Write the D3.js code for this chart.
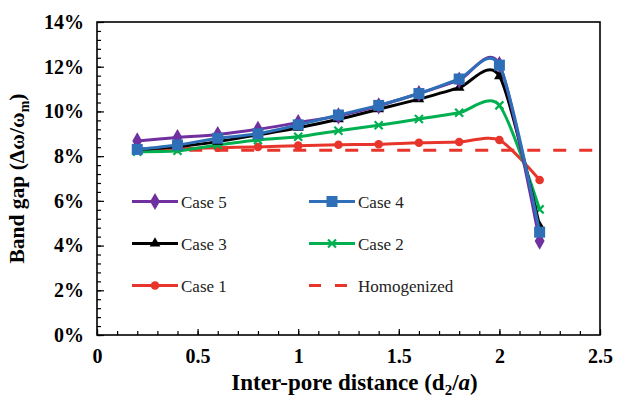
<!DOCTYPE html>
<html>
<head>
<meta charset="utf-8">
<script src="https://cdn.jsdelivr.net/npm/d3@7"></script>
<style>
  body { margin: 0; background: #fff; }
  svg text { font-family: "Liberation Serif", "DejaVu Serif", serif !important; }
</style>
</head>
<body>
<div id="chart"></div>
<script>
(function () {
  // data (band gap in %)
  let distances = [0.2, 0.4, 0.6, 0.8, 1.0, 1.2, 1.4, 1.6, 1.8, 2.0, 2.2];
  let case5 = [8.68, 8.83, 8.97, 9.2, 9.5, 9.8, 10.25, 10.8, 11.4, 12.1, 4.2];
  let case4 = [8.3, 8.5, 8.8, 9.0, 9.4, 9.84, 10.27, 10.8, 11.45, 12.07, 4.6];
  let case3 = [8.3, 8.42, 8.65, 8.95, 9.27, 9.65, 10.1, 10.55, 11.06, 11.58, 4.87];
  let case2 = [8.2, 8.24, 8.5, 8.72, 8.87, 9.14, 9.38, 9.66, 9.94, 10.27, 5.62];
  let case1 = [8.3, 8.32, 8.38, 8.41, 8.47, 8.51, 8.53, 8.6, 8.63, 8.72, 6.93];
  let homogenized = 8.26;
  let homogenizedRange = [0.2, 2.5];
  let yTicks = [0, 2, 4, 6, 8, 10, 12, 14];
  let xTicks = [0, 0.5, 1, 1.5, 2, 2.5];

  let seriesList = [
    { name: 'Case 5', values: case5, color: '#7030a0', marker: 'diamond' },
    { name: 'Case 4', values: case4, color: '#2e6fb7', marker: 'square' },
    { name: 'Case 3', values: case3, color: '#000000', marker: 'triangle' },
    { name: 'Case 2', values: case2, color: '#00b050', marker: 'cross' },
    { name: 'Case 1', values: case1, color: '#e8352b', marker: 'circle' }
  ];

  let serif = '"Liberation Serif", "DejaVu Serif", serif';
  let margin = { top: 22, right: 27, bottom: 65, left: 97 };
  let fullW = 627, fullH = 400;
  let width = fullW - margin.left - margin.right;
  let height = fullH - margin.top - margin.bottom;

  let svg = d3.select('#chart')
    .append('svg')
    .attr('width', fullW)
    .attr('height', fullH)
    .attr('font-family', serif)
    .append('g')
    .attr('transform', 'translate(' + margin.left + ', ' + margin.top + ')');

  let xScale = d3.scaleLinear().domain([0, 2.5]).range([0, width]);
  let yScale = d3.scaleLinear().domain([0, 14]).range([height, 0]);

  // minor ticks (inside)
  let yMinor = d3.axisRight(yScale)
    .tickValues(d3.range(0, 14.01, 0.4))
    .tickSize(4).tickFormat('');
  svg.append('g').attr('class', 'minor').call(yMinor);

  let xMinor = d3.axisTop(xScale)
    .tickValues(d3.range(0, 2.501, 0.1))
    .tickSize(4).tickFormat('');
  svg.append('g').attr('class', 'minor')
    .attr('transform', `translate(0, ${height})`)
    .call(xMinor);

  // major ticks + labels
  let yAxis = d3.axisLeft(yScale)
    .tickValues(yTicks)
    .tickSizeInner(-7).tickSizeOuter(0)
    .tickPadding(13)
    .tickFormat(d => d + '%');
  svg.append('g').attr('class', 'major').call(yAxis);

  let xAxis = d3.axisBottom(xScale)
    .tickValues(xTicks)
    .tickSizeInner(-6).tickSizeOuter(0)
    .tickPadding(14)
    .tickFormat(d => d);
  svg.append('g').attr('class', 'major')
    .attr('transform', `translate(0, ${height})`)
    .call(xAxis);

  svg.selectAll('.domain').remove();
  svg.selectAll('g.minor, g.major').attr('font-family', serif);
  svg.selectAll('.tick line').attr('stroke', '#000').attr('stroke-width', 1.2);
  svg.selectAll('.major text')
    .attr('font-size', 20)
    .attr('font-weight', 'bold')
    .attr('fill', '#000');

  // frame
  svg.append('rect')
    .attr('x', 0).attr('y', 0)
    .attr('width', width).attr('height', height)
    .attr('fill', 'none')
    .attr('stroke', '#000')
    .attr('stroke-width', 1.6);

  // homogenized dashed line
  svg.append('line')
    .attr('x1', xScale(homogenizedRange[0]))
    .attr('x2', xScale(homogenizedRange[1]) - 3)
    .attr('y1', yScale(homogenized))
    .attr('y2', yScale(homogenized))
    .attr('stroke', '#e8352b')
    .attr('stroke-width', 3)
    .attr('stroke-dasharray', '13,13');

  let line = d3.line()
    .x(d => xScale(d[0]))
    .y(d => yScale(d[1]))
    .curve(d3.curveCardinal.tension(0.2));

  function drawMarker(g, type, color, x, y) {
    if (type === 'diamond') {
      g.append('path').attr('d', d3.symbol(d3.symbolDiamond, 85)())
        .attr('transform', `translate(${x},${y})`).attr('fill', color);
    } else if (type === 'square') {
      g.append('rect').attr('x', x - 5.5).attr('y', y - 5.5)
        .attr('width', 11).attr('height', 11).attr('fill', color);
    } else if (type === 'triangle') {
      g.append('path').attr('d', d3.symbol(d3.symbolTriangle, 50)())
        .attr('transform', `translate(${x},${y})`).attr('fill', color);
    } else if (type === 'cross') {
      g.append('path').attr('d', `M${x - 4},${y - 4}L${x + 4},${y + 4}M${x - 4},${y + 4}L${x + 4},${y - 4}`)
        .attr('stroke', color).attr('stroke-width', 2.2).attr('fill', 'none');
    } else {
      g.append('circle').attr('cx', x).attr('cy', y).attr('r', 4.3).attr('fill', color);
    }
  }

  // draw from Case 1 up so Case 5 / Case 4 sit on top as in the picture
  let drawOrder = [4, 3, 2, 0, 1];
  drawOrder.forEach(i => {
    let s = seriesList[i];
    let pts = distances.map((d, j) => [d, s.values[j]]);
    let g = svg.append('g');
    g.append('path')
      .attr('d', line(pts))
      .attr('fill', 'none')
      .attr('stroke', s.color)
      .attr('stroke-width', 3);
    pts.forEach(p => drawMarker(g, s.marker, s.color, xScale(p[0]), yScale(p[1])));
  });

  // legend
  let legendItems = [
    { s: seriesList[0], col: 0, row: 0 },
    { s: seriesList[1], col: 1, row: 0 },
    { s: seriesList[2], col: 0, row: 1 },
    { s: seriesList[3], col: 1, row: 1 },
    { s: seriesList[4], col: 0, row: 2 },
    { s: { name: 'Homogenized', color: '#e8352b', marker: null }, col: 1, row: 2 }
  ];
  let legend = svg.append('g');
  legendItems.forEach(it => {
    let x0 = 35 + it.col * 177;
    let y0 = 179.5 + it.row * 42;
    let g = legend.append('g');
    let ln = g.append('line')
      .attr('x1', x0).attr('x2', x0 + 46)
      .attr('y1', y0).attr('y2', y0)
      .attr('stroke', it.s.color)
      .attr('stroke-width', 3);
    if (it.s.marker) {
      drawMarker(g, it.s.marker, it.s.color, x0 + 23, y0);
    } else {
      ln.attr('stroke-dasharray', '12,14');
    }
    g.append('text')
      .attr('x', x0 + 49).attr('y', y0 + 6)
      .attr('font-size', 17)
      .attr('fill', '#222')
      .text(it.s.name);
  });

  // axis titles
  let xTitle = svg.append('text')
    .attr('x', width / 2 + 6)
    .attr('y', height + 55)
    .attr('text-anchor', 'middle')
    .attr('font-size', 23)
    .attr('font-weight', 'bold');
  xTitle.append('tspan').text('Inter-pore distance (d');
  xTitle.append('tspan').attr('font-size', 15).attr('dy', 5).text('2');
  xTitle.append('tspan').attr('dy', -5).text('/');
  xTitle.append('tspan').attr('font-style', 'italic').text('a');
  xTitle.append('tspan').text(')');

  let yTitle = svg.append('text')
    .attr('transform', `translate(${-73}, ${height / 2}) rotate(-90)`)
    .attr('text-anchor', 'middle')
    .attr('font-size', 21.5)
    .attr('font-weight', 'bold');
  yTitle.append('tspan').text('Band gap (Δω/ω');
  yTitle.append('tspan').attr('font-size', 14).attr('dy', 5).text('m');
  yTitle.append('tspan').attr('dy', -5).text(')');
})();
</script>
</body>
</html>
